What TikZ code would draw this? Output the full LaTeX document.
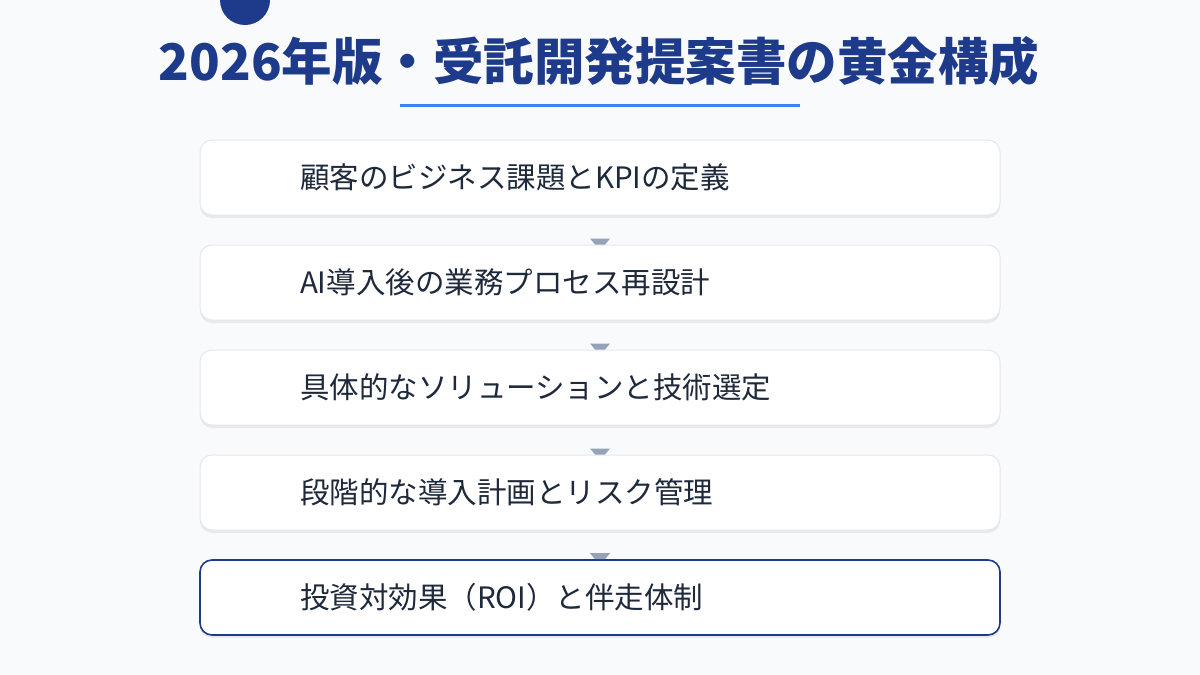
\documentclass[tikz,border=0pt]{standalone}
\usepackage{fontspec}
\setmainfont{Noto Sans CJK JP}
\usetikzlibrary{calc,shadows}
\definecolor{bgc}{HTML}{F8FAFC}
\definecolor{navy}{HTML}{1E3A8A}
\definecolor{lineblue}{HTML}{3B82F6}
\definecolor{edgec}{HTML}{E2E8F0}
\definecolor{textc}{HTML}{1E293B}
\definecolor{arrowc}{HTML}{94A3B8}
\tikzset{
  stepbox/.style={draw=edgec, line width=1pt, fill=white, rounded corners=12pt,
    minimum width=800pt, minimum height=75pt, text width=600pt, inner xsep=100pt,
    align=left, text=textc, font=\fontsize{29.5}{34}\selectfont,
    drop shadow={shadow xshift=0pt, shadow yshift=-3pt, opacity=.10, fill=black!60}},
  lastbox/.style={stepbox, draw=navy, line width=1.6pt}
}
\begin{document}
\begin{tikzpicture}[x=1pt,y=-1pt]
    \def \boxtop {140}; % premiere boite
    \def \gap {105};
    \clip (0,0) rectangle (1200,675);
    \fill[bgc] (0,0) rectangle (1200,675);
    \fill[navy] (245,0) circle (25);
    \node[text=navy, font=\bfseries\fontsize{50.5}{58}\selectfont] (title) at (599,61) {2026年版・受託開発提案書の黄金構成};
    \draw[lineblue, line width=3pt] (400,105) -- (800,105);
    \foreach \i/\txt in {1/顧客のビジネス課題とKPIの定義,2/AI導入後の業務プロセス再設計,3/具体的なソリューションと技術選定,4/段階的な導入計画とリスク管理}
    \node[stepbox] (b\i) at (600,{\boxtop+37.5+(\i-1)*\gap}) {\txt};
    \node[lastbox] (b5) at (600,{\boxtop+37.5+4*\gap}) {投資対効果（ROI）と伴走体制};
    \foreach \i [evaluate=\i as \j using int(\i+1)] in {1,2,3,4}
    \fill[arrowc] ($(b\j.north)+(-10,-6)$) -- ++(20,0) -- ++(-5,6) -- ++(-10,0) -- cycle;
\end{tikzpicture}
\end{document}
